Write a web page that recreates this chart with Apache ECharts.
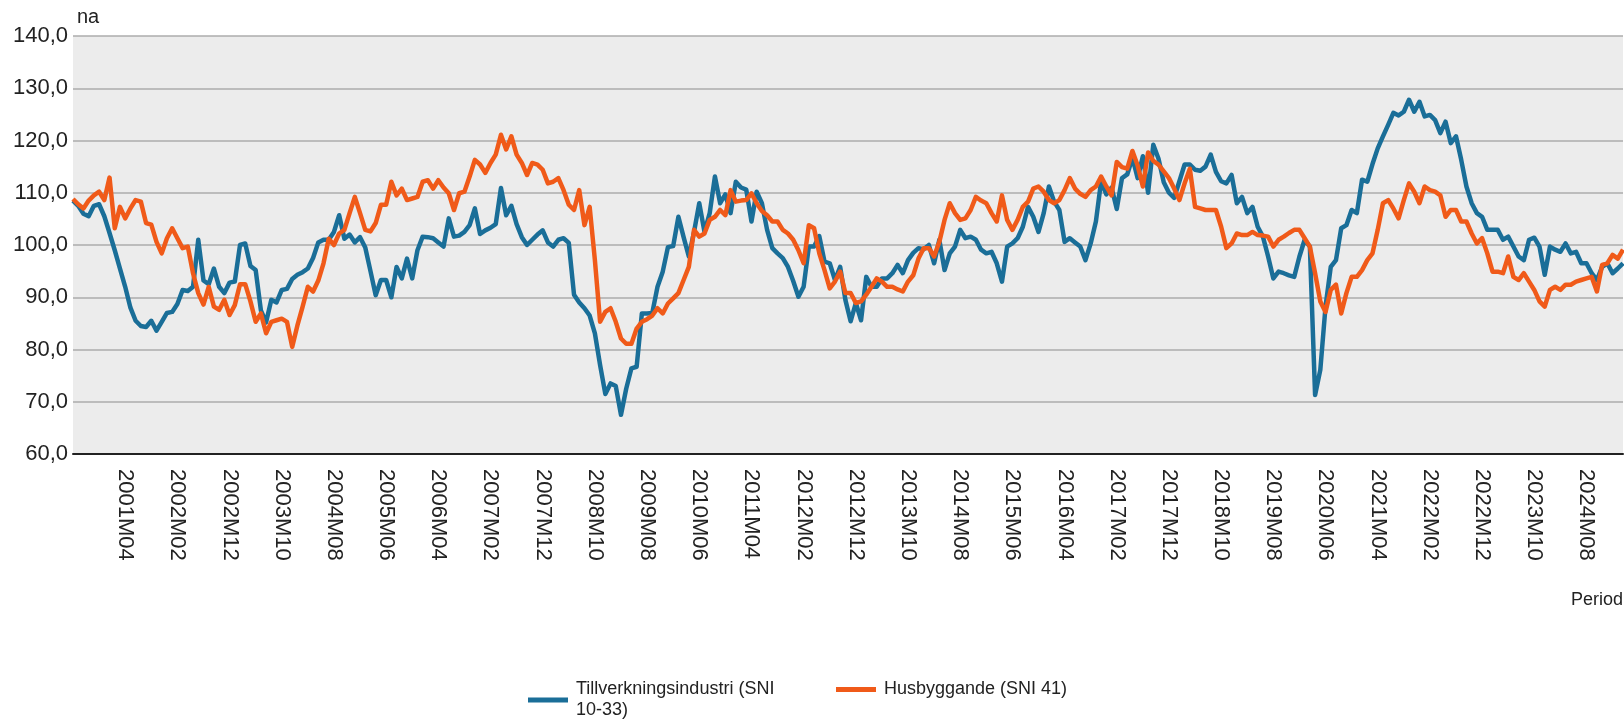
<!DOCTYPE html>
<html>
<head>
<meta charset="utf-8">
<title>Tillverkningsindustri och husbyggande</title>
<script src="https://cdn.jsdelivr.net/npm/echarts@6/dist/echarts.min.js"></script>
<style>
html, body { margin: 0; padding: 0; background: #fff; }
#chart { width: 1624px; height: 721px; }
</style>
</head>
<body>
<div id="chart"></div>
<script>
// monthly series, first point is 2000M06
const startYear = 2000
const startMonth = 6

const tickLabels = [
    '2001M04', '2002M02', '2002M12', '2003M10', '2004M08', '2005M06', '2006M04', '2007M02',
    '2007M12', '2008M10', '2009M08', '2010M06', '2011M04', '2012M02', '2012M12', '2013M10',
    '2014M08', '2015M06', '2016M04', '2017M02', '2017M12', '2018M10', '2019M08', '2020M06',
    '2021M04', '2022M02', '2022M12', '2023M10', '2024M08'
]

const seriesNames = ['Tillverkningsindustri (SNI 10-33)', 'Husbyggande (SNI 41)']

const manufacturing = [
    108.5, 107.5, 106, 105.5, 107.5, 107.8, 105.5, 102.3, 99, 95.5,
    92, 88, 85.5, 84.5, 84.3, 85.5, 83.6, 85.3, 87, 87.2,
    88.7, 91.4, 91.2, 92, 101, 93.2, 92.5, 95.5, 92, 90.8,
    92.8, 93, 100, 100.3, 96, 95.2, 87.5, 85.2, 89.5, 89,
    91.4, 91.6, 93.5, 94.3, 94.8, 95.5, 97.5, 100.5, 101, 101,
    102.5, 105.7, 101.2, 102, 100.5, 101.5, 99.5, 95, 90.4, 93.3,
    93.3, 90, 95.8, 93.6, 97.4, 93.6, 99, 101.6, 101.5, 101.3,
    100.5, 99.7, 105.1, 101.6, 101.8, 102.5, 103.8, 107, 102.1, 102.8,
    103.3, 104, 110.9, 105.7, 107.5, 104, 101.5, 100, 101, 102,
    102.8, 100.5, 99.7, 101, 101.3, 100.4, 90.5, 89, 87.9, 86.5,
    83.1, 77, 71.5, 73.5, 73, 67.5, 72.5, 76.4, 76.7, 86.9,
    86.9, 87, 92, 94.9, 99.6, 99.8, 105.4, 101.5, 97.8, 102.5,
    108, 102.5, 106.1, 113.1, 108, 109.7, 106.1, 112.1, 111, 110.6,
    104.5, 110.2, 108, 102.9, 99.4, 98.4, 97.5, 95.8, 93.1, 90.1,
    92, 99.7, 99.7, 101.7, 96.8, 96.5, 93.3, 95.8, 89.5, 85.4,
    88.9, 85.6, 93.9, 92, 92, 93.6, 93.6, 94.6, 96.2, 94.6,
    97.1, 98.5, 99.4, 99.2, 100, 96.5, 101, 95.2, 98.4, 99.7,
    102.9, 101.3, 101.6, 101, 99.1, 98.4, 98.7, 96.5, 93, 99.7,
    100.3, 101.3, 103.5, 107.3, 105.4, 102.5, 106.1, 111.2, 108.3, 106.7,
    100.6, 101.3, 100.5, 99.7, 97.1, 100.3, 104.5, 112.2, 109.7, 111,
    106.9, 112.8, 113.5, 116.7, 112.8, 117, 110, 119.2, 116.5, 112,
    110, 109, 112.2, 115.4, 115.4, 114.4, 114.2, 115, 117.3, 114,
    112.2, 111.8, 113.4, 108, 109.2, 106.1, 107.3, 103.5, 101.6, 97.8,
    93.6, 94.9, 94.6, 94.2, 93.9, 97.8, 101, 99.7, 71.3, 76.1,
    88.2, 95.8, 97.1, 103.2, 103.8, 106.7, 106.1, 112.5, 112.1, 115.5,
    118.5, 120.8, 123, 125.3, 124.8, 125.5, 127.8, 125.5, 127.4, 124.6,
    124.9, 123.9, 121.4, 123.6, 119.5, 120.8, 116.3, 111.2, 108, 106.1,
    105.4, 102.9, 102.9, 102.9, 101, 101.6, 99.7, 97.8, 97.1, 101,
    101.4, 99.7, 94.3, 99.7, 99.1, 98.7, 100.3, 98.4, 98.7, 96.5,
    96.5, 94.6, 93.3, 95.8, 96.5, 94.6, 95.5, 96.5
]

const housing = [
    108.8, 107.8, 107, 108.5, 109.5, 110.2, 108.6, 112.9, 103.2, 107.3,
    105.1, 107, 108.6, 108.3, 104.2, 103.9, 100.6, 98.4, 101.3, 103.2,
    101.3, 99.4, 99.7, 94.6, 90.8, 88.6, 92, 88.2, 87.6, 89.5,
    86.6, 88.5, 92.5, 92.5, 89.2, 85.3, 86.9, 83.1, 85.3, 85.6,
    85.9, 85.3, 80.5, 84.6, 88.2, 92, 91.1, 93.2, 96.5, 101.2,
    100, 102.2, 102.9, 106.1, 109.2, 106.1, 102.9, 102.6, 104.2, 107.7,
    107.7, 112.1, 109.5, 110.8, 108.6, 108.9, 109.2, 112.1, 112.4, 110.8,
    112.4, 111, 109.9, 106.7, 109.9, 110.2, 113.1, 116.3, 115.4, 113.8,
    115.7, 117.3, 121.1, 118.3, 120.8, 117.3, 115.7, 113.4, 115.7, 115.4,
    114.4, 111.8, 112.1, 112.8, 110.5, 107.7, 106.7, 110.5, 103.8, 107.3,
    97.1, 85.3, 87.2, 87.9, 85.3, 82.1, 81.1, 81.1, 84, 85.3,
    85.8, 86.5, 87.9, 86.9, 88.8, 89.8, 90.8, 93.3, 95.8, 102.9,
    101.6, 102.2, 104.8, 105.4, 106.7, 105.7, 110.5, 108.3, 108.5, 108.6,
    109.9, 108, 106.5, 105.7, 104.5, 104.5, 102.9, 102.2, 101, 99,
    96.5, 103.8, 103.2, 98.4, 95.2, 91.7, 93, 94.9, 90.8, 90.8,
    88.9, 89.2, 90.5, 92, 93.6, 93, 92, 92, 91.5, 91.1,
    93, 94.2, 97.4, 99.4, 99.4, 97.8, 100.6, 104.8, 108, 106.1,
    104.8, 105.1, 106.7, 109.2, 108.5, 108, 106.1, 104.5, 109.5, 104.8,
    102.9, 104.8, 107.3, 108.3, 110.8, 111.2, 110.2, 108.6, 108, 108.6,
    110.5, 112.8, 110.8, 109.8, 109.2, 110.5, 111.2, 113.1, 111.2, 109.5,
    115.9, 114.9, 114.6, 118, 115.2, 111.2, 117.7, 116.1, 115.4, 114.1,
    112.8, 110.8, 108.6, 111.8, 114.6, 107.3, 107, 106.7, 106.7, 106.7,
    103.5, 99.4, 100.3, 102.2, 101.9, 101.9, 102.5, 101.9, 101.8, 101.6,
    99.7, 101, 101.6, 102.3, 102.9, 102.9, 101.3, 99.7, 94.6, 89.2,
    87.2, 91.4, 92.4, 86.9, 90.8, 93.9, 93.9, 95.2, 97.1, 98.4,
    102.9, 108, 108.6, 107, 105.1, 108.6, 111.8, 110.2, 108, 111.2,
    110.5, 110.2, 109.5, 105.4, 106.7, 106.7, 104.5, 104.5, 102.2, 100.3,
    101.3, 98.4, 94.9, 94.9, 94.6, 97.8, 93.9, 93.3, 94.6, 93,
    91.4, 89.2, 88.2, 91.4, 92, 91.4, 92.4, 92.4, 93, 93.3,
    93.6, 93.9, 91.1, 96.2, 96.5, 98.1, 97.4, 99.1
]

const periods = []
for (let i = 0; i < manufacturing.length; i++) {
    const m = startMonth - 1 + i
    const year = startYear + Math.floor(m / 12)
    const month = (m % 12) + 1
    periods.push(year + 'M' + String(month).padStart(2, '0'))
}

const font = '"Liberation Sans", Arial, sans-serif'
const textColor = '#222'
const blue = '#1a6e98'
const orange = '#f05a19'

const legendBase = {
    orient: 'horizontal',
    padding: 0,
    icon: 'rect',
    itemWidth: 40,
    itemHeight: 5,
    selectedMode: false,
    textStyle: {
        fontFamily: font,
        fontSize: 18,
        color: textColor,
        lineHeight: 21,
        padding: [0, 0, 0, 3]
    }
}

const chart = echarts.init(document.getElementById('chart'))
const option = {
    animation: false,
    backgroundColor: '#ffffff',
    grid: {
        left: 73,
        right: 1,
        top: 36,
        bottom: 267,
        show: true,
        backgroundColor: '#ececec',
        borderWidth: 0,
        containLabel: false,
        outerBoundsMode: 'none'
    },
    legend: [
        Object.assign({}, legendBase, {
            data: [seriesNames[0]],
            left: 528,
            top: 679,
            formatter: (name) => name.replace(' 10-33', '\n10-33')
        }),
        Object.assign({}, legendBase, {
            data: [seriesNames[1]],
            left: 836,
            top: 679
        })
    ],
    xAxis: {
        type: 'category',
        data: periods,
        boundaryGap: false,
        name: 'Period',
        nameLocation: 'end',
        nameGap: 0,
        nameTextStyle: {
            fontFamily: font,
            fontSize: 18,
            color: textColor,
            align: 'right',
            verticalAlign: 'top',
            padding: [137, 0, 0, 0]
        },
        axisLine: { lineStyle: { color: '#222', width: 2 } },
        axisTick: { show: false },
        splitLine: { show: false },
        axisLabel: {
            rotate: -90,
            interval: (index, value) => tickLabels.includes(value),
            margin: 15,
            fontFamily: font,
            fontSize: 22,
            color: textColor
        }
    },
    yAxis: {
        type: 'value',
        min: 60,
        max: 140,
        interval: 10,
        name: 'na',
        nameLocation: 'end',
        nameGap: 9,
        nameTextStyle: {
            fontFamily: font,
            fontSize: 20,
            color: textColor,
            align: 'left',
            padding: [0, 0, 0, 4]
        },
        axisLine: { show: false },
        axisTick: { show: false },
        axisLabel: {
            margin: 5,
            fontFamily: font,
            fontSize: 22,
            color: textColor,
            formatter: (v) => v.toFixed(1).replace('.', ',')
        },
        splitLine: { lineStyle: { color: '#acacac', width: 1.5 } }
    },
    series: [
        {
            name: seriesNames[0],
            type: 'line',
            data: manufacturing,
            showSymbol: false,
            symbol: 'none',
            silent: true,
            itemStyle: { color: blue },
            lineStyle: { color: blue, width: 4.5, join: 'round' }
        },
        {
            name: seriesNames[1],
            type: 'line',
            data: housing,
            showSymbol: false,
            symbol: 'none',
            silent: true,
            itemStyle: { color: orange },
            lineStyle: { color: orange, width: 4.5, join: 'round' }
        }
    ]
}
chart.setOption(option)
</script>
</body>
</html>
